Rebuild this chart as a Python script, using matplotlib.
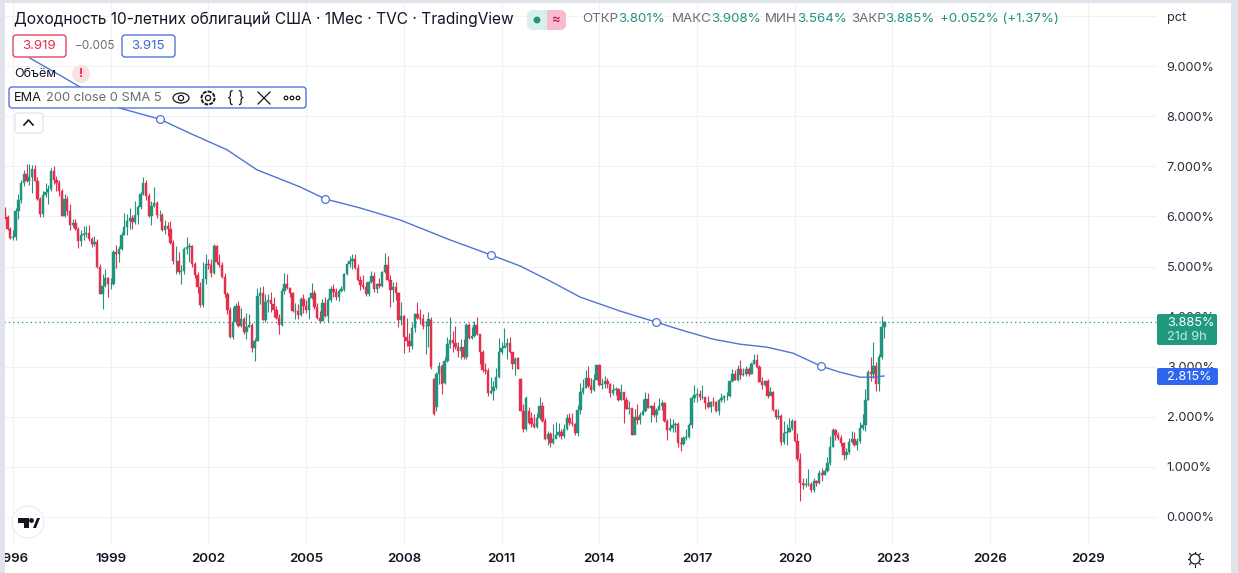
import numpy as np
import matplotlib
matplotlib.use('Agg')
import matplotlib.pyplot as plt
from matplotlib.patches import Rectangle, FancyBboxPatch, Circle, Ellipse, Polygon

plt.rcParams['font.family'] = ['Inter', 'DejaVu Sans']

# monthly candles, Oct 1995 .. Oct 2022
opens = [
    6.13, 5.99, 5.74,
    5.57, 5.58, 6.10, 6.33, 6.67, 6.85, 6.71, 6.79, 6.94, 6.70, 6.34, 6.04,
    6.42, 6.49, 6.55, 6.90, 6.72, 6.66, 6.50, 6.01, 6.34, 6.10, 5.83, 5.87,
    5.74, 5.51, 5.62, 5.65, 5.67, 5.55, 5.45, 5.49, 5.00, 4.45, 4.61, 4.77,
    4.65, 4.65, 5.29, 5.24, 5.35, 5.62, 5.78, 5.90, 5.97, 5.88, 6.02, 6.19,
    6.44, 6.67, 6.41, 6.00, 6.21, 6.27, 6.03, 6.03, 5.72, 5.80, 5.75, 5.47,
    5.11, 5.11, 4.90, 4.92, 5.34, 5.38, 5.41, 5.05, 4.83, 4.59, 4.23, 4.75,
    5.05, 5.03, 4.88, 5.40, 5.09, 5.04, 4.80, 4.46, 4.14, 3.60, 3.89, 4.21,
    3.82, 3.96, 3.69, 3.80, 3.84, 3.37, 3.52, 4.41, 4.47, 3.94, 4.29, 4.33,
    4.25, 4.13, 3.97, 3.84, 4.51, 4.65, 4.58, 4.47, 4.12, 4.12, 4.03, 4.35,
    4.22, 4.13, 4.38, 4.48, 4.20, 3.98, 3.92, 4.28, 4.02, 4.33, 4.56, 4.49,
    4.39, 4.52, 4.55, 4.85, 5.05, 5.12, 5.14, 4.98, 4.73, 4.63, 4.60, 4.46,
    4.70, 4.82, 4.56, 4.65, 4.62, 4.89, 5.03, 4.74, 4.53, 4.59, 4.47, 3.94,
    4.02, 3.59, 3.51, 3.41, 3.77, 4.06, 3.97, 3.95, 3.81, 3.82, 3.93, 2.75,
    2.20, 2.85, 3.01, 2.67, 3.12, 3.46, 3.53, 3.48, 3.40, 3.31, 3.39, 3.20,
    3.84, 3.58, 3.61, 3.83, 3.65, 3.29, 2.93, 2.91, 2.47, 2.51, 2.60, 2.80,
    3.29, 3.37, 3.42, 3.47, 3.29, 3.06, 3.18, 2.75, 2.12, 1.76, 2.12, 1.98,
    1.85, 1.80, 1.97, 2.21, 1.91, 1.56, 1.65, 1.47, 1.55, 1.63, 1.69, 1.62,
    1.76, 1.98, 1.88, 1.85, 1.67, 2.13, 2.49, 2.58, 2.78, 2.61, 2.54, 2.74,
    3.03, 2.64, 2.65, 2.72, 2.65, 2.47, 2.53, 2.56, 2.34, 2.49, 2.34, 2.16,
    2.17, 1.64, 1.99, 1.93, 2.03, 2.12, 2.35, 2.18, 2.21, 2.04, 2.14, 2.21,
    2.27, 1.92, 1.73, 1.77, 1.83, 1.85, 1.47, 1.45, 1.58, 1.59, 1.83, 2.38,
    2.44, 2.45, 2.39, 2.39, 2.28, 2.20, 2.30, 2.29, 2.12, 2.33, 2.38, 2.41,
    2.41, 2.71, 2.86, 2.74, 2.95, 2.83, 2.86, 2.96, 2.86, 3.06, 3.14, 2.99,
    2.69, 2.63, 2.72, 2.41, 2.50, 2.13, 2.00, 2.02, 1.50, 1.67, 1.69, 1.78,
    1.92, 1.51, 1.15, 0.67, 0.64, 0.65, 0.66, 0.53, 0.71, 0.68, 0.88, 0.84,
    0.92, 1.07, 1.40, 1.74, 1.63, 1.58, 1.47, 1.24, 1.30, 1.49, 1.55, 1.44,
    1.51, 1.78, 1.83, 2.34, 2.89, 2.85, 3.02, 2.65, 3.19, 3.801,
]
highs = [
    6.18, 6.02, 5.78,
    5.72, 6.17, 6.45, 6.72, 6.92, 7.05, 7.05, 7.02, 7.02, 6.78, 6.38, 6.50,
    6.67, 6.62, 6.97, 7.00, 6.80, 6.72, 6.55, 6.45, 6.40, 6.25, 5.95, 5.95,
    5.78, 5.72, 5.80, 5.80, 5.82, 5.58, 5.60, 5.55, 5.05, 4.85, 4.95, 4.80,
    4.78, 5.32, 5.42, 5.40, 5.68, 6.07, 6.05, 6.17, 6.03, 6.30, 6.22, 6.49,
    6.79, 6.72, 6.47, 6.30, 6.58, 6.30, 6.12, 6.07, 5.92, 5.89, 5.90, 5.53,
    5.40, 5.29, 5.03, 5.38, 5.58, 5.47, 5.43, 5.10, 4.90, 4.70, 5.10, 5.25,
    5.15, 5.15, 5.45, 5.42, 5.25, 5.10, 4.88, 4.50, 4.20, 4.20, 4.27, 4.32,
    4.17, 4.00, 4.08, 4.05, 3.87, 3.58, 4.58, 4.60, 4.62, 4.45, 4.45, 4.50,
    4.40, 4.22, 4.05, 4.58, 4.88, 4.85, 4.60, 4.50, 4.28, 4.25, 4.40, 4.45,
    4.34, 4.40, 4.67, 4.53, 4.28, 4.12, 4.35, 4.40, 4.38, 4.62, 4.65, 4.57,
    4.55, 4.62, 4.88, 5.08, 5.20, 5.25, 5.25, 5.05, 4.82, 4.83, 4.70, 4.72,
    4.92, 4.90, 4.67, 4.78, 4.92, 5.27, 5.20, 4.83, 4.69, 4.70, 4.50, 4.30,
    4.03, 3.98, 3.68, 3.88, 4.08, 4.30, 4.15, 4.05, 3.92, 4.10, 4.00, 2.78,
    2.90, 3.10, 3.05, 3.20, 3.60, 3.99, 3.72, 3.82, 3.50, 3.55, 3.55, 3.87,
    3.88, 3.80, 3.92, 4.00, 3.60, 3.34, 3.08, 2.98, 2.80, 2.72, 2.97, 3.57,
    3.50, 3.77, 3.58, 3.60, 3.29, 3.20, 3.20, 2.78, 2.25, 2.42, 2.20, 2.10,
    2.05, 2.08, 2.40, 2.30, 1.98, 1.72, 1.70, 1.86, 1.89, 1.87, 1.75, 1.85,
    2.05, 2.07, 2.07, 1.87, 2.24, 2.67, 2.75, 2.93, 3.01, 2.77, 2.85, 3.03,
    3.05, 2.78, 2.82, 2.78, 2.67, 2.66, 2.60, 2.57, 2.65, 2.50, 2.40, 2.32,
    2.18, 2.15, 2.25, 2.10, 2.36, 2.50, 2.47, 2.23, 2.30, 2.17, 2.37, 2.33,
    2.30, 1.95, 1.98, 1.95, 1.90, 1.89, 1.60, 1.62, 1.75, 1.87, 2.42, 2.63,
    2.57, 2.53, 2.63, 2.40, 2.42, 2.32, 2.40, 2.32, 2.36, 2.47, 2.44, 2.50,
    2.73, 2.95, 2.93, 3.03, 3.13, 2.98, 3.01, 3.00, 3.09, 3.26, 3.25, 3.03,
    2.79, 2.74, 2.76, 2.60, 2.52, 2.16, 2.15, 2.06, 1.91, 1.85, 1.97, 1.95,
    1.94, 1.68, 1.28, 0.78, 0.78, 0.96, 0.70, 0.78, 0.74, 0.93, 0.98, 0.98,
    1.19, 1.61, 1.77, 1.75, 1.70, 1.63, 1.50, 1.38, 1.57, 1.71, 1.69, 1.57,
    1.90, 2.06, 2.55, 2.94, 3.20, 3.49, 3.10, 3.26, 4.01, 3.908,
]
lows = [
    5.95, 5.72, 5.55,
    5.52, 5.52, 5.95, 6.27, 6.60, 6.68, 6.63, 6.47, 6.70, 6.32, 5.98, 5.98,
    6.38, 6.25, 6.50, 6.65, 6.50, 6.40, 6.00, 5.98, 6.03, 5.72, 5.78, 5.72,
    5.36, 5.40, 5.52, 5.58, 5.50, 5.38, 5.41, 4.98, 4.45, 4.15, 4.60, 4.40,
    4.55, 4.63, 4.98, 5.10, 5.32, 5.62, 5.62, 5.75, 5.75, 5.85, 5.85, 6.15,
    6.42, 6.33, 5.98, 5.82, 6.18, 5.97, 5.90, 5.70, 5.65, 5.60, 5.44, 5.05,
    4.85, 4.85, 4.66, 4.85, 5.25, 5.10, 5.00, 4.78, 4.48, 4.20, 4.20, 4.65,
    4.95, 4.80, 4.85, 5.05, 5.00, 4.78, 4.40, 4.05, 3.58, 3.55, 3.85, 3.80,
    3.80, 3.65, 3.55, 3.80, 3.30, 3.11, 3.52, 4.25, 3.93, 3.90, 4.10, 4.10,
    4.00, 3.95, 3.66, 3.82, 4.45, 4.55, 4.40, 4.10, 3.95, 3.95, 4.02, 4.08,
    4.08, 3.96, 4.35, 4.15, 3.95, 3.88, 3.92, 3.99, 3.90, 4.30, 4.40, 4.33,
    4.31, 4.50, 4.52, 4.83, 5.00, 4.95, 4.95, 4.72, 4.53, 4.55, 4.42, 4.42,
    4.68, 4.50, 4.48, 4.58, 4.60, 4.88, 4.72, 4.20, 4.30, 4.34, 3.80, 3.83,
    3.28, 3.42, 3.30, 3.35, 3.70, 3.95, 3.85, 3.75, 3.25, 3.40, 2.95, 2.04,
    2.12, 2.65, 2.45, 2.65, 3.10, 3.38, 3.30, 3.35, 3.20, 3.15, 3.15, 3.15,
    3.55, 3.55, 3.60, 3.64, 3.05, 2.90, 2.85, 2.42, 2.45, 2.33, 2.55, 2.78,
    3.26, 3.40, 3.15, 3.27, 2.95, 2.84, 2.95, 2.12, 1.70, 1.72, 1.85, 1.80,
    1.78, 1.78, 1.95, 1.90, 1.53, 1.44, 1.39, 1.45, 1.60, 1.60, 1.55, 1.58,
    1.74, 1.84, 1.82, 1.63, 1.61, 2.05, 2.46, 2.58, 2.59, 2.47, 2.52, 2.74,
    2.62, 2.56, 2.58, 2.58, 2.40, 2.43, 2.43, 2.32, 2.33, 1.87, 2.15, 2.05,
    1.64, 1.65, 1.85, 1.85, 2.03, 2.10, 2.17, 1.90, 2.00, 1.90, 2.13, 2.14,
    1.90, 1.53, 1.72, 1.69, 1.70, 1.40, 1.32, 1.44, 1.53, 1.58, 1.78, 2.30,
    2.30, 2.33, 2.36, 2.16, 2.17, 2.10, 2.22, 2.09, 2.03, 2.30, 2.30, 2.34,
    2.40, 2.70, 2.74, 2.72, 2.76, 2.82, 2.82, 2.81, 2.85, 3.05, 2.98, 2.69,
    2.55, 2.61, 2.37, 2.44, 2.12, 1.95, 1.96, 1.43, 1.46, 1.43, 1.69, 1.73,
    1.50, 1.12, 0.32, 0.55, 0.60, 0.62, 0.50, 0.50, 0.62, 0.66, 0.72, 0.83,
    0.90, 1.04, 1.39, 1.53, 1.53, 1.42, 1.13, 1.16, 1.26, 1.47, 1.42, 1.34,
    1.48, 1.74, 1.72, 2.33, 2.71, 2.78, 2.52, 2.52, 3.15, 3.564,
]
closes = [
    5.99, 5.74, 5.57,
    5.58, 6.10, 6.33, 6.67, 6.85, 6.71, 6.79, 6.94, 6.70, 6.34, 6.04, 6.42,
    6.49, 6.55, 6.90, 6.72, 6.66, 6.50, 6.01, 6.34, 6.10, 5.83, 5.87, 5.74,
    5.51, 5.62, 5.65, 5.67, 5.55, 5.45, 5.49, 5.00, 4.45, 4.61, 4.77, 4.65,
    4.65, 5.29, 5.24, 5.35, 5.62, 5.78, 5.90, 5.97, 5.88, 6.02, 6.19, 6.44,
    6.67, 6.41, 6.00, 6.21, 6.27, 6.03, 6.03, 5.72, 5.80, 5.75, 5.47, 5.11,
    5.11, 4.90, 4.92, 5.34, 5.38, 5.41, 5.05, 4.83, 4.59, 4.23, 4.75, 5.05,
    5.03, 4.88, 5.40, 5.09, 5.04, 4.80, 4.46, 4.14, 3.60, 3.89, 4.21, 3.82,
    3.96, 3.69, 3.80, 3.84, 3.37, 3.52, 4.41, 4.47, 3.94, 4.29, 4.33, 4.25,
    4.13, 3.97, 3.84, 4.51, 4.65, 4.58, 4.47, 4.12, 4.12, 4.03, 4.35, 4.22,
    4.13, 4.38, 4.48, 4.20, 3.98, 3.92, 4.28, 4.02, 4.33, 4.56, 4.49, 4.39,
    4.52, 4.55, 4.85, 5.05, 5.12, 5.14, 4.98, 4.73, 4.63, 4.60, 4.46, 4.70,
    4.82, 4.56, 4.65, 4.62, 4.89, 5.03, 4.74, 4.53, 4.59, 4.47, 3.94, 4.02,
    3.59, 3.51, 3.41, 3.77, 4.06, 3.97, 3.95, 3.81, 3.82, 3.95, 3.00, 2.05,
    2.85, 3.01, 2.66, 3.12, 3.46, 3.53, 3.48, 3.40, 3.31, 3.39, 3.20, 3.84,
    3.58, 3.61, 3.83, 3.65, 3.29, 2.93, 2.91, 2.47, 2.51, 2.60, 2.80, 3.29,
    3.37, 3.42, 3.47, 3.29, 3.06, 3.16, 2.95, 2.12, 1.76, 2.38, 1.88, 1.85,
    1.80, 1.97, 2.21, 1.91, 1.56, 1.65, 1.47, 1.55, 1.63, 1.69, 1.62, 1.76,
    1.98, 1.88, 1.85, 1.67, 2.13, 2.49, 2.58, 2.78, 2.61, 2.54, 2.74, 3.03,
    2.64, 2.65, 2.72, 2.65, 2.47, 2.53, 2.56, 2.34, 2.49, 2.34, 2.16, 2.17,
    1.64, 1.99, 1.93, 2.03, 2.12, 2.35, 2.18, 2.21, 2.04, 2.14, 2.21, 2.27,
    1.92, 1.73, 1.77, 1.83, 1.85, 1.47, 1.45, 1.58, 1.59, 1.83, 2.38, 2.44,
    2.45, 2.39, 2.39, 2.28, 2.20, 2.30, 2.29, 2.12, 2.33, 2.38, 2.41, 2.41,
    2.71, 2.86, 2.74, 2.95, 2.83, 2.86, 2.96, 2.86, 3.06, 3.14, 2.99, 2.69,
    2.63, 2.72, 2.41, 2.50, 2.13, 2.00, 2.02, 1.50, 1.67, 1.69, 1.78, 1.92,
    1.51, 1.15, 0.67, 0.64, 0.65, 0.66, 0.53, 0.71, 0.68, 0.88, 0.84, 0.92,
    1.07, 1.40, 1.74, 1.63, 1.58, 1.47, 1.24, 1.30, 1.49, 1.55, 1.44, 1.51,
    1.78, 1.83, 2.34, 2.89, 2.85, 3.02, 2.65, 3.19, 3.80, 3.885,
]

ema_years = [1996.52, 1997.54, 1999.07, 2000.51, 2001.43, 2002.57, 2003.49, 2004.81, 2005.58, 2006.65,
             2007.88, 2009.42, 2010.68, 2011.57, 2012.49, 2013.41, 2014.64, 2015.74, 2016.63, 2017.49,
             2018.32, 2019.15, 2019.95, 2020.81, 2021.39, 2022.01, 2022.37, 2022.74]
ema_values = [9.16, 8.78, 8.20, 7.94, 7.66, 7.33, 6.93, 6.59, 6.35, 6.17,
              5.93, 5.53, 5.23, 5.01, 4.71, 4.39, 4.11, 3.89, 3.71, 3.55,
              3.45, 3.39, 3.27, 3.01, 2.89, 2.79, 2.79, 2.815]
ema_handles = [3, 8, 12, 17, 23]

year_ticks = [1996, 1999, 2002, 2005, 2008, 2011, 2014, 2017, 2020, 2023, 2026, 2029]
pct_ticks = [0, 1, 2, 3, 4, 5, 6, 7, 8, 9, 10]
pct_labels = ['0.000%', '1.000%', '2.000%', '3.000%', '4.000%', '5.000%', '6.000%', '7.000%', '8.000%', '9.000%', 'pct']
last_price = 3.885
ema_last = 2.815

GREEN = '#22937c'
RED = '#e2304d'
BLUE = '#4f74d6'
GRID = '#f0f2f7'
DARK = '#131722'
GREY = '#6a6d78'
W, H = 1238, 573

fig = plt.figure(figsize=(W / 100, H / 100), dpi=100, facecolor='white')

# chart pane: 1996 sits at px 13, 32.57 px a year; 0% at py 517, 50.1 px a percent
ax = fig.add_axes([4 / W, 1 - 544 / H, (1157 - 4) / W, (544 - 2) / H])
ax.set_xlim(1995.724, 2031.12)
ax.set_ylim(-0.539, 10.28)
for s in ax.spines.values():
    s.set_visible(False)
ax.set_xticks(year_ticks)
ax.set_xticklabels([str(y) for y in year_ticks], fontsize=9.6, fontweight='semibold', color=DARK)
ax.yaxis.tick_right()
ax.set_yticks(pct_ticks)
ax.set_yticklabels(pct_labels, fontsize=9.2, color='#2a2e39')
ax.tick_params(axis='both', length=0)
ax.tick_params(axis='y', pad=7)
ax.tick_params(axis='x', pad=6.5)
ax.grid(True, color=GRID, linewidth=0.8)
ax.set_axisbelow(True)

x = 1995.75 + np.arange(len(closes)) / 12
o = np.array(opens)
c = np.array(closes)
colors = [GREEN if c[i] >= o[i] else RED for i in range(len(c))]
ax.vlines(x, lows, highs, colors=colors, linewidth=0.8, zorder=2)
ax.bar(x, np.abs(c - o), bottom=np.minimum(o, c), width=0.074, color=colors, edgecolor=colors, linewidth=0.3, zorder=3)

ax.axhline(last_price, color=GREEN, linewidth=0.9, linestyle=(0, (1, 2.5)), zorder=2)
ax.plot(ema_years, ema_values, color=BLUE, linewidth=1.0, zorder=4)
ax.plot(np.array(ema_years)[ema_handles], np.array(ema_values)[ema_handles], 'o', ms=5.6, mfc='white', mec=BLUE, mew=0.9, zorder=5)

# overlay in pixels for the TradingView widgets
ui = fig.add_axes([0, 0, 1, 1], zorder=10)
ui.set_xlim(0, W)
ui.set_ylim(H, 0)
ui.axis('off')
ui.patch.set_alpha(0)


def box(x0, y0, x1, y1, fc='white', ec='none', lw=1.0, r=3):
    p = FancyBboxPatch((x0 + r, y0 + r), x1 - x0 - 2 * r, y1 - y0 - 2 * r, boxstyle=f'round,pad={r},rounding_size={r}',
                       fc=fc, ec=ec, lw=lw)
    ui.add_patch(p)


def label(px, py, s, color=DARK, size=9.6, **kw):
    ui.text(px, py, s, color=color, fontsize=size, va='center', **kw)


# frame of the window
for rect in [(0, 0, 5, H), (0, 0, W, 2.5), (1231, 0, 7, H)]:
    ui.add_patch(Rectangle(rect[:2], rect[2], rect[3], fc='#e0e3eb', ec='none'))

# title row
label(14, 19, 'Доходность 10-летних облигаций США · 1Мес · TVC · TradingView', size=11.15)
box(527, 10, 566, 30, fc='#d8f0e9', r=6)
box(547, 10, 566, 30, fc='#f8bbd0', r=6)
ui.add_patch(Rectangle((547, 10), 6, 20, fc='#f8bbd0', ec='none'))
ui.add_patch(Circle((537, 20), 3.4, fc=GREEN, ec='none'))
label(556, 19.5, '≈', color='#a3124a', size=9.5, ha='center')

label(582, 19, 'ОТКР', color=GREY)
label(618, 19, '3.801%', color=GREEN)
label(672, 19, 'МАКС', color=GREY)
label(711.5, 19, '3.908%', color=GREEN)
label(765, 19, 'МИН', color=GREY)
label(797, 19, '3.564%', color=GREEN)
label(851, 19, 'ЗАКР', color=GREY)
label(885, 19, '3.885%', color=GREEN)
label(940, 19, '+0.052% (+1.37%)', color=GREEN)

# bid / ask row
box(13, 35, 66, 57, ec=RED, lw=0.9)
label(39.5, 46, '3.919', color=RED, ha='center')
label(75, 46, '−0.005', color=GREY, size=8.4)
box(122, 35, 175, 57, ec='#3f68d8', lw=0.9)
label(148.5, 46, '3.915', color='#3f68d8', ha='center')

# indicators
label(14, 74, 'Объём', size=9)
ui.add_patch(Circle((81, 74), 9, fc='#fbe0e3', ec='none'))
label(81, 74, '!', color=RED, size=9, ha='center', fontweight='bold')

box(9, 87, 306, 108, ec='#3f68d8', lw=0.9)
label(14, 98, 'EMA', size=9.2)
label(46, 98, '200 close 0 SMA 5', color=GREY, size=9.3)
# eye
ui.add_patch(Ellipse((181, 98), 16, 10, fc='white', ec=DARK, lw=0.9))
ui.add_patch(Circle((181, 98), 2.6, fc='white', ec=DARK, lw=0.9))
# gear
ui.add_patch(Circle((208, 98), 6.5, fc='white', ec=DARK, lw=1.4, ls=(0, (2, 0.6))))
ui.add_patch(Circle((208, 98), 2.6, fc='white', ec=DARK, lw=0.9))
label(236, 97, '{ }', size=11, ha='center')
ui.plot([258, 270], [92, 104], color=DARK, lw=0.9)
ui.plot([258, 270], [104, 92], color=DARK, lw=0.9)
for dx in [286, 292, 298]:
    ui.add_patch(Circle((dx, 98), 1.8, fc='white', ec=DARK, lw=0.9))

box(15, 113, 43, 133, ec='#e0e3eb', lw=0.9)
ui.plot([24, 28.5, 33], [125, 120, 125], color=DARK, lw=1.2)

# price badges on top of the axis labels
box(1157, 314, 1217, 345, fc='#1f9a80', r=2)
label(1167, 323, '3.885%', color='white', size=9.2)
label(1167, 337, '21d 9h', color='#c6e8df', size=9.2)
box(1157, 368, 1218, 385, fc='#2f66ee', r=2)
label(1167, 376.5, '2.815%', color='white', size=9.2)

# logo
ui.add_patch(Circle((28, 522), 16, fc='white', ec='#eceef3', lw=1.0))
ui.add_patch(Polygon([(18, 518), (29, 518), (29, 528), (24, 528), (24, 523), (18, 523)], fc=DARK, ec='none'))
ui.add_patch(Circle((31.5, 520.5), 2.4, fc=DARK, ec='none'))
ui.add_patch(Polygon([(33, 528), (37, 518), (40, 518), (36, 528)], fc=DARK, ec='none'))

# settings sun
ui.add_patch(Circle((1195, 559), 5, fc='white', ec=DARK, lw=0.9))
for dx, dy in [(0, -7.5), (0, 7.5), (-7.5, 0), (7.5, 0), (5.5, 5.5), (-5.5, 5.5), (5.5, -5.5), (-5.5, -5.5)]:
    ui.plot([1195 + dx * 0.8, 1195 + dx], [559 + dy * 0.8, 559 + dy], color=DARK, lw=0.8)

fig.savefig('out.png', dpi=100)
